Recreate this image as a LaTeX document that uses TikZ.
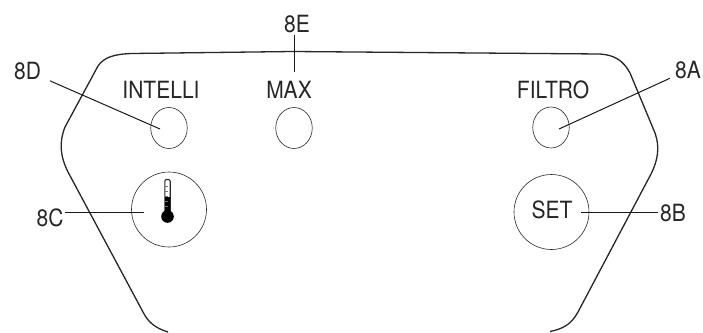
\documentclass[tikz,border=0pt]{standalone}
\usepackage{fontspec}
\setmainfont{TeX Gyre Heros}
\usetikzlibrary{shapes.geometric}
\newcommand{\tall}[1]{\scalebox{1}[1.13]{#1}}
\tikzset{
    panel/.style={line width=1.3pt,color=black!85},
    leader/.style={line width=1pt,color=black!90},
    btn/.style={draw,ellipse,line width=0.6pt,color=black!85,minimum width=36.5pt,minimum height=41pt,inner sep=0pt},
    bigbtn/.style={draw,circle,line width=0.6pt,color=black!85,minimum size=75pt,inner sep=0pt},
    txt/.style={inner sep=0pt,text=black!85,font=\fontsize{21}{24}\selectfont},
    tag/.style={inner sep=1.5pt,text=black!85,font=\fontsize{21}{24}\selectfont}
}
\begin{document}
\begin{tikzpicture}[x=1pt,y=-1pt]
            \useasboundingbox (0,0) rectangle (703,332);
            \draw[panel] (168,332) .. controls (155,328) and (148,322) .. (143,312)
                -- (68,172) .. controls (60,156) and (59,142) .. (65,127)
                -- (98,66) .. controls (104,57) and (115,54) .. (132,53.5)
                -- (293,51.5) -- (600,54) .. controls (614,55) and (623,60) .. (630,73)
                -- (655,133) .. controls (660,147) and (658,160) .. (651,174)
                -- (578,312) .. controls (571,325) and (562,329) .. (550,331.5);
            \node[btn] (intelli) at (169,128) {};
            \node[btn] (max) at (294,128) {};
            \node[btn] (filtro) at (551,127.5) {};
            \node[bigbtn] (therm) at (169,209.5) {};
            \node[bigbtn] (set) at (551.5,212) {};
            \node[txt] at (161,90) {\tall{INTELLI}};
            \node[txt] at (289,90) {\tall{MAX}};
            \node[txt] at (553,90) {\tall{FILTRO}};
            \node[txt] at (552,210) {\tall{SET}};
            % thermometer
            \draw[line width=1.1pt,color=black!85,rounded corners=2pt] (164.8,212) -- (164.8,179.5) -- (170.2,179.5) -- (170.2,212);
            \fill[black] (165,197) rectangle (170,212);
            \fill[black] (167.5,216.5) circle (6.3);
            \foreach \y in {186,191,196,201,206}
                \draw[line width=0.5pt,color=black!55] (165,\y) -- (168,\y);
            \node[tag] (la) at (688,70) {\tall{8A}};
            \node[tag] (lb) at (673,213) {\tall{8B}};
            \node[tag] (lc) at (50,218) {\tall{8C}};
            \node[tag] (ld) at (27.5,71) {\tall{8D}};
            \node[tag] (le) at (297,24) {\tall{8E}};
            \coordinate (ta) at (559,129);
            \coordinate (tb) at (581,212);
            \coordinate (tc) at (144,212);
            \coordinate (td) at (160,129);
            \coordinate (te) at (294,72);
            \draw[leader,shorten <=4pt] (la) -- (ta);
            \draw[leader] (lb.west |- tb) -- (tb);
            \draw[leader] (lc.east |- tc) -- (tc);
            \draw[leader,shorten <=8pt] (ld) -- (td);
            \draw[leader] (te |- le.south) -- (te);
        \end{tikzpicture}
\end{document}
